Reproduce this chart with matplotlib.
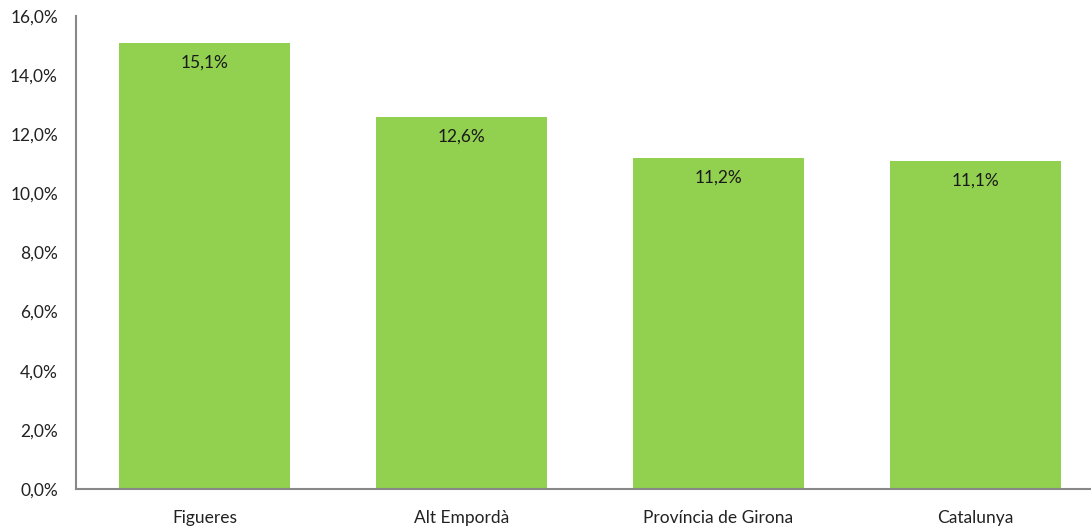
import matplotlib
matplotlib.use("Agg")
import matplotlib.pyplot as plt
from matplotlib.ticker import FuncFormatter

categories = ["Figueres", "Alt Empordà", "Província de Girona", "Catalunya"]
values = [15.1, 12.6, 11.2, 11.1]
yticks = [0, 2, 4, 6, 8, 10, 12, 14, 16]

plt.rcParams['font.family'] = ['Lato', 'DejaVu Sans']

fig = plt.figure(figsize=(10.91, 5.26), dpi=100)
ax = fig.add_axes([76/1091, 37/526, 1 - 76/1091, (489-16)/526])

x = list(range(len(categories)))
bars = ax.bar(x, values, width=0.666, color="#92D050", zorder=2)
for xi, v in zip(x, values):
    ax.annotate(f"{v:.1f}%".replace(".", ","), (xi, v), xytext=(0, -14.5),
                textcoords="offset points", ha="center", va="center",
                fontsize=12.5, color="#1a1a1a")

ax.set_xlim(-0.5, -0.5 + 1015/257)
ax.set_ylim(0, 16)
ax.set_yticks(yticks)
ax.yaxis.set_major_formatter(FuncFormatter(lambda v, p: f"{v:.1f}%".replace(".", ",")))
ax.set_xticks(x)
ax.set_xticklabels(categories)
ax.tick_params(axis="both", length=0, labelsize=12.5, colors="#222222")
ax.tick_params(axis="y", pad=13)
ax.tick_params(axis="x", pad=15)
for s in ["top", "right"]:
    ax.spines[s].set_visible(False)
for s in ["left", "bottom"]:
    ax.spines[s].set_color("#888888")
    ax.spines[s].set_linewidth(1.5)

fig.savefig("out.png", dpi=100)
